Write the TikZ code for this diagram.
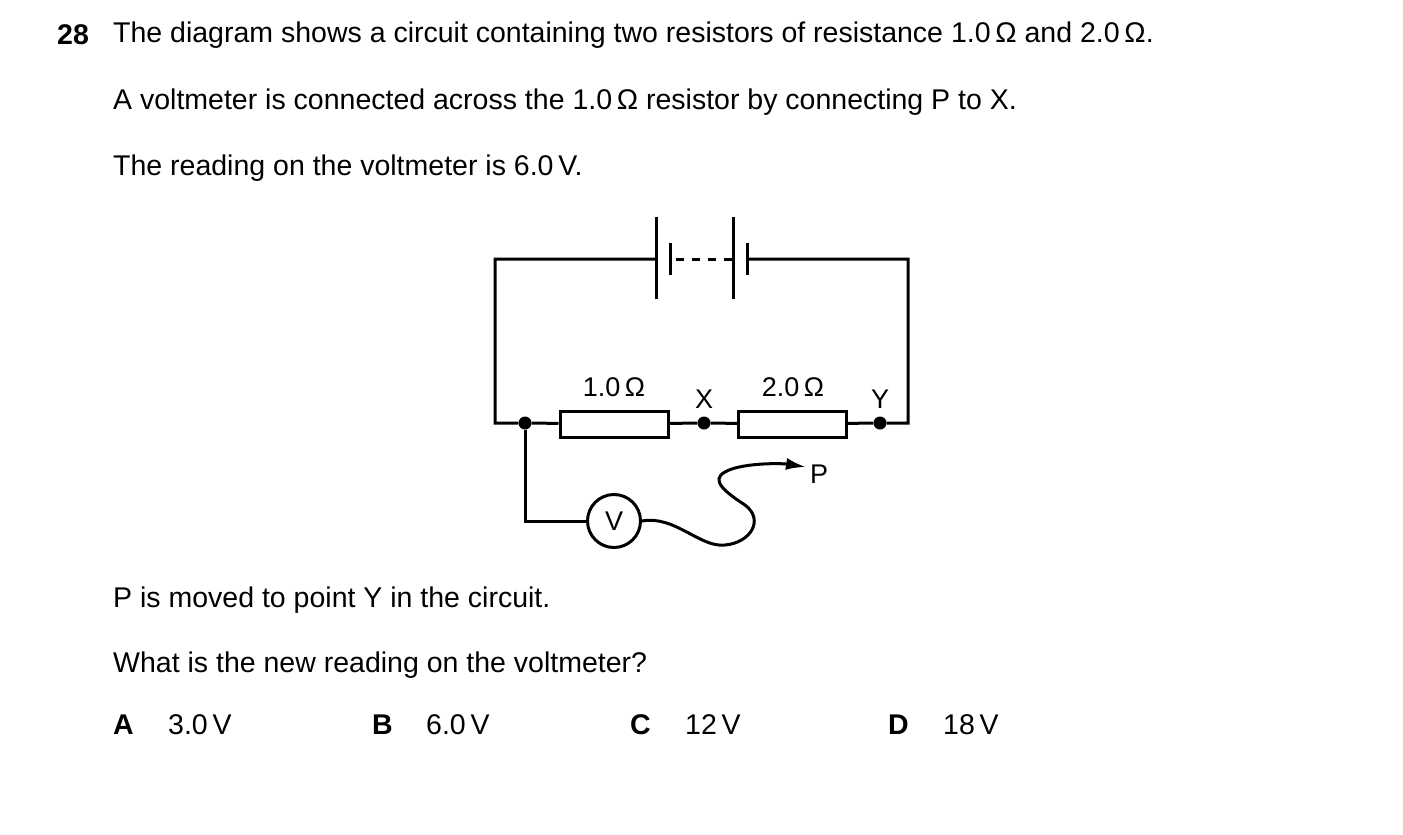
\documentclass[tikz,border=0pt]{standalone}
\usepackage{fontspec}
\setmainfont{Liberation Sans}
\usetikzlibrary{arrows.meta}
\begin{document}
\begin{tikzpicture}[x=1pt,y=-1pt,
  txt/.style={anchor=west,inner sep=0pt,font=\fontsize{28.5}{34}\selectfont},
  btxt/.style={txt,font=\fontsize{28.5}{34}\selectfont\bfseries},
  lab/.style={inner sep=0pt,font=\fontsize{27}{32}\selectfont},
  wire/.style={line width=3pt},
  res/.style={draw,line width=3pt,minimum width=108pt,minimum height=26pt,inner sep=0pt},
  dot/.style={circle,fill,inner sep=0pt,minimum size=13pt}]
\useasboundingbox (0,0) rectangle (1403,835);
\node[btxt] (n28) at (57,35) {28};
\node[txt] (t1) at (113,35) {The diagram shows a circuit containing two resistors of resistance 1.0\,Ω and 2.0\,Ω.};
\node[txt] (t2) at (113,102) {A voltmeter is connected across the 1.0\,Ω resistor by connecting P to X.};
\node[txt] (t3) at (113,168) {The reading on the voltmeter is 6.0\,V.};
\node[txt] (t4) at (113,600) {P is moved to point Y in the circuit.};
\node[txt] (t5) at (113,665) {What is the new reading on the voltmeter?};
\node[btxt] (oA) at (113,725) {A};
\node[txt] (vA) at (168,725) {3.0\,V};
\node[btxt] (oB) at (372,725) {B};
\node[txt] (vB) at (426,725) {6.0\,V};
\node[btxt] (oC) at (630,725) {C};
\node[txt] (vC) at (685,725) {12\,V};
\node[btxt] (oD) at (888,725) {D};
\node[txt] (vD) at (943,725) {18\,V};
% circuit
\coordinate (tl) at (495,259);
\coordinate (tr) at (908,259);
\coordinate (bl) at (495,423);
\coordinate (br) at (908,423);
\coordinate (b1) at (656,259);
\coordinate (b2) at (747,259);
\node[dot] (J) at (525,423) {};
\node[res] (R1) at (614,424) {};
\node[dot] (X) at (704,423) {};
\node[res] (R2) at (792.5,424) {};
\node[dot] (Y) at (880,423) {};
\node[circle,draw,line width=3pt,minimum size=53pt,inner sep=0pt,lab] (V) at (614,521) {V};
\coordinate (Vc) at (525,521);
\coordinate (Pt) at (806,467);
\node[lab,anchor=west] (P) at (810,474) {P};
\node[lab] (l1) at (614,387) {1.0\,Ω};
\node[lab] (l2) at (793,387) {2.0\,Ω};
\node[lab] (lX) at (704,399) {X};
\node[lab] (lY) at (880,399) {Y};
\draw[wire] (b1) -- (tl) -- (bl) -- (J) -- (R1) -- (X) -- (R2) -- (Y) -- (br) -- (tr) -- (b2);
\draw[wire] (656,217) -- (656,299);
\draw[wire] (670,243) -- (670,275);
\draw[wire] (733,217) -- (733,299);
\draw[wire] (747,243) -- (747,275);
\draw[wire,dash pattern=on 8pt off 8pt,dash phase=-6pt] (670,259) -- (733,259);
\draw[wire] (J) -- (Vc) -- (V);
\draw[wire,-{Latex[length=20pt,width=12pt]}] (V.east) .. controls (675,515) and (700,548) .. (725,545)
  .. controls (750,543) and (765,520) .. (745,505)
  .. controls (725,492) and (710,480) .. (725,472)
  .. controls (740,463) and (780,463) .. (Pt);
\end{tikzpicture}
\end{document}
